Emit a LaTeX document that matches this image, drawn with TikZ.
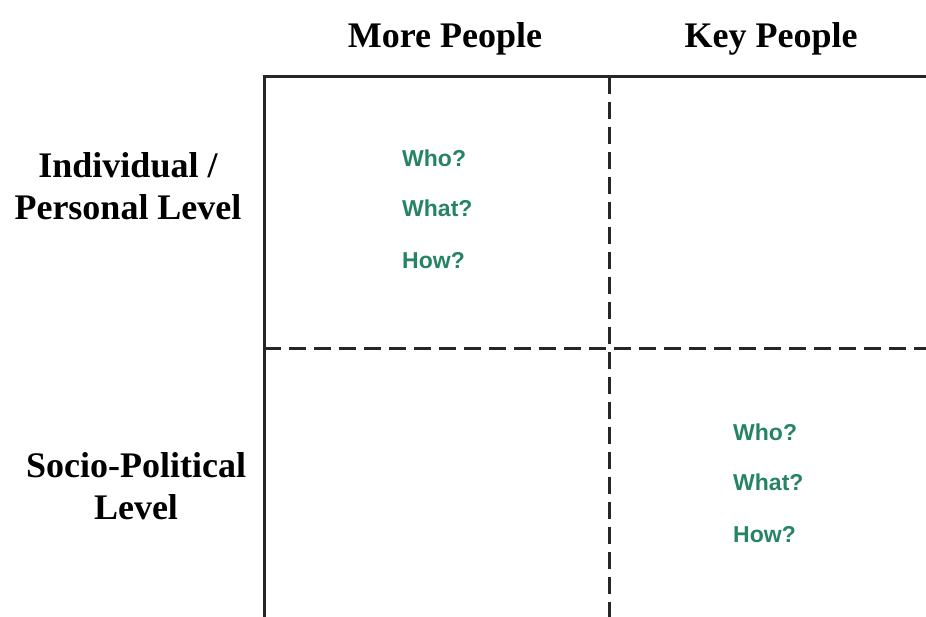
\documentclass[tikz,border=0pt]{standalone}
\usepackage{fontspec}
\setmainfont{Liberation Serif}
\newfontfamily\qfont{Liberation Sans}
\definecolor{qgreen}{RGB}{38,132,98}

\begin{document}
\begin{tikzpicture}[x=1pt,y=-1pt,
		head/.style={font=\fontsize{36}{40}\selectfont\bfseries, inner sep=0pt, anchor=base},
		side/.style={font=\fontsize{36}{42}\selectfont\bfseries, align=center, inner sep=0pt},
		quest/.style={font=\qfont\fontsize{23}{26}\selectfont\bfseries, text=qgreen, inner sep=0pt, anchor=base west},
		frame/.style={line width=3pt, black!85},
		split/.style={line width=3pt, black!85, dash pattern=on 17pt off 8pt},
	]
	\useasboundingbox (0,0) rectangle (926,617);
	% grid corners
	\coordinate (tl) at (264,77);
	\coordinate (tr) at (926,77);
	\coordinate (bl) at (264,617);
	\coordinate (tm) at (609,77);
	\coordinate (bm) at (609,617);
	\coordinate (ml) at (264,349);
	\coordinate (mr) at (926,349);
	\draw[frame] (bl) -- (tl) -- (tr);
	\draw[split] (tm) -- (bm);
	\draw[split] (ml) -- (mr);
	% column and row heads
	\node[head] (more) at (445,48) {More People};
	\node[head] (key) at (771,48) {Key People};
	\node[side] (indiv) at (128,186) {Individual /\\Personal Level};
	\node[side] (socio) at (136,486) {Socio-Political\\Level};
	% questions
	\node[quest] (who1) at (402,167) {Who?};
	\node[quest] (what1) at (402,217) {What?};
	\node[quest] (how1) at (402,269) {How?};
	\node[quest] (who2) at (733,440) {Who?};
	\node[quest] (what2) at (733,490) {What?};
	\node[quest] (how2) at (733,542) {How?};
\end{tikzpicture}
\end{document}
